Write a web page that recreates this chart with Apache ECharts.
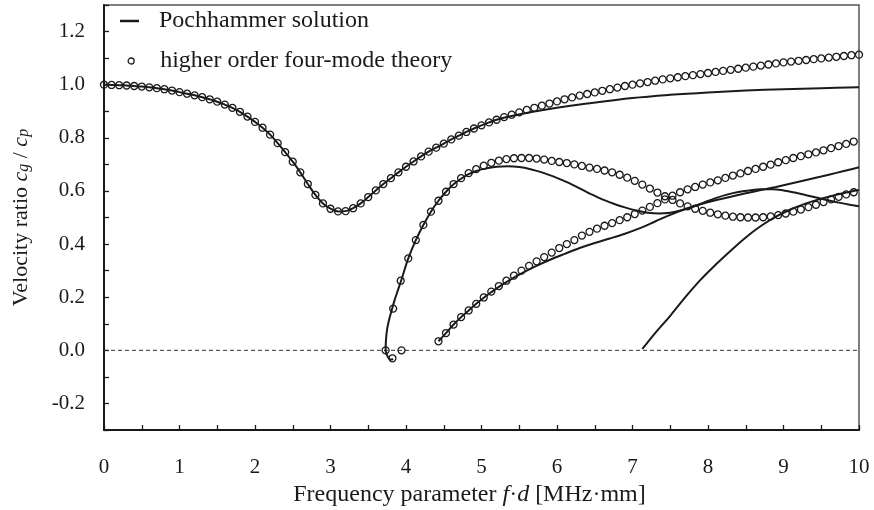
<!DOCTYPE html>
<html>
<head>
<meta charset="utf-8">
<script src="https://cdn.jsdelivr.net/npm/echarts@6/dist/echarts.min.js"></script>
<style>
html,body{margin:0;padding:0;background:#fff;}
#chart{width:874px;height:510px;}
</style>
</head>
<body>
<div id="chart"></div>
<script>
// ---------- data (f·d in MHz·mm, velocity ratio cg/cp) ----------
const xTicks = [0,1,2,3,4,5,6,7,8,9,10];
const yTicks = [-0.2,0.0,0.2,0.4,0.6,0.8,1.0,1.2];

// Pochhammer solution (solid curves)
const pochMode1 = [
 [0.0,1.000],[0.1,0.999],[0.2,0.998],[0.3,0.997],[0.4,0.995],[0.5,0.993],[0.6,0.990],[0.7,0.987],[0.8,0.983],[0.9,0.978],
 [1.0,0.972],[1.1,0.966],[1.2,0.960],[1.3,0.953],[1.4,0.945],[1.5,0.936],[1.6,0.925],[1.7,0.913],[1.8,0.898],[1.9,0.880],
 [2.0,0.860],[2.1,0.838],[2.2,0.812],[2.3,0.780],[2.4,0.746],[2.5,0.710],[2.6,0.670],[2.7,0.626],[2.8,0.585],[2.9,0.553],
 [3.0,0.533],[3.1,0.523],[3.2,0.524],[3.3,0.535],[3.4,0.553],[3.5,0.577],[3.6,0.602],[3.7,0.626],[3.8,0.648],[3.9,0.670],
 [4.0,0.691],[4.1,0.711],[4.2,0.730],[4.3,0.748],[4.4,0.763],[4.5,0.778],[4.6,0.794],[4.7,0.808],[4.8,0.822],[4.9,0.835],
 [5.0,0.847],[5.1,0.858],[5.2,0.868],[5.4,0.882],[5.7,0.899],[6.0,0.913],[6.4,0.929],[7.0,0.950],[7.5,0.962],[8.0,0.971],
 [8.5,0.978],[9.0,0.983],[9.5,0.987],[10.0,0.990]
];
const pochMode2 = [
 [3.83,-0.033],[3.80,-0.035],[3.77,-0.029],[3.75,-0.019],[3.735,-0.008],[3.73,0.0],[3.735,0.04],[3.75,0.08],[3.78,0.12],
 [3.81,0.15],[3.85,0.19],[3.90,0.232],[3.95,0.275],[4.03,0.346],[4.13,0.415],[4.23,0.472],[4.33,0.522],[4.43,0.563],
 [4.53,0.597],[4.63,0.625],[4.73,0.646],[4.83,0.663],[4.93,0.675],[5.05,0.684],[5.2,0.691],[5.35,0.693],[5.5,0.690],
 [5.65,0.682],[5.8,0.670],[5.95,0.655],[6.1,0.637],[6.2,0.624],[6.3,0.610],[6.45,0.588],[6.6,0.568],[6.75,0.552],
 [6.9,0.538],[7.05,0.526],[7.2,0.518],[7.35,0.515],[7.5,0.518],[7.65,0.527],[7.8,0.540],[7.95,0.557],[8.1,0.573],
 [8.25,0.586],[8.4,0.596],[8.55,0.602],[8.7,0.606],[8.85,0.606],[9.0,0.602],[9.15,0.594],[9.3,0.584],[9.45,0.574],
 [9.6,0.564],[9.75,0.555],[9.9,0.547],[10.0,0.542]
];
const pochMode3 = [
 [4.43,0.034],[4.53,0.065],[4.63,0.097],[4.73,0.125],[4.83,0.150],[4.93,0.175],[5.03,0.198],[5.13,0.219],[5.23,0.239],
 [5.33,0.257],[5.5,0.285],[5.7,0.314],[5.9,0.340],[6.1,0.363],[6.3,0.385],[6.5,0.404],[6.7,0.421],[6.9,0.439],[7.1,0.460],
 [7.3,0.485],[7.5,0.510],[7.7,0.532],[7.9,0.550],[8.1,0.565],[8.3,0.578],[8.5,0.591],[8.7,0.603],[8.9,0.615],[9.1,0.628],
 [9.3,0.641],[9.5,0.654],[9.7,0.668],[9.9,0.682],[10.0,0.689]
];
const pochMode4 = [
 [7.13,0.005],[7.3,0.065],[7.5,0.130],[7.7,0.200],[7.9,0.265],[8.1,0.322],[8.3,0.375],[8.5,0.425],[8.7,0.468],[8.9,0.503],
 [9.1,0.531],[9.3,0.553],[9.5,0.571],[9.7,0.586],[9.9,0.598],[10.0,0.604]
];

// higher order four-mode theory (open circles)
const theoryMode1 = [
 [0.0,1.000],[0.1,0.999],[0.2,0.998],[0.3,0.997],[0.4,0.995],[0.5,0.993],[0.6,0.990],[0.7,0.987],[0.8,0.983],[0.9,0.978],
 [1.0,0.972],[1.1,0.966],[1.2,0.960],[1.3,0.953],[1.4,0.945],[1.5,0.936],[1.6,0.925],[1.7,0.913],[1.8,0.898],[1.9,0.880],
 [2.0,0.860],[2.1,0.838],[2.2,0.812],[2.3,0.780],[2.4,0.746],[2.5,0.710],[2.6,0.670],[2.7,0.626],[2.8,0.585],[2.9,0.553],
 [3.0,0.533],[3.1,0.523],[3.2,0.524],[3.3,0.535],[3.4,0.553],[3.5,0.577],[3.6,0.602],[3.7,0.626],[3.8,0.648],[3.9,0.670],
 [4.0,0.691],[4.1,0.711],[4.2,0.730],[4.3,0.748],[4.4,0.763],[4.5,0.778],[4.6,0.794],[4.7,0.808],[4.8,0.822],[4.9,0.835],
 [5.0,0.847],[5.1,0.858],[5.2,0.868],[5.3,0.878],[5.4,0.887],[5.5,0.896],[5.6,0.905],[5.7,0.913],[5.8,0.921],[5.9,0.929],
 [6.0,0.937],[6.1,0.945],[6.2,0.952],[6.3,0.959],[6.4,0.965],[6.5,0.971],[6.6,0.977],[6.7,0.983],[6.8,0.989],[6.9,0.995],
 [7.0,1.000],[7.1,1.005],[7.2,1.010],[7.3,1.015],[7.4,1.020],[7.5,1.024],[7.6,1.028],[7.7,1.032],[7.8,1.036],[7.9,1.040],
 [8.0,1.044],[8.1,1.048],[8.2,1.052],[8.3,1.056],[8.4,1.060],[8.5,1.064],[8.6,1.068],[8.7,1.072],[8.8,1.076],[8.9,1.080],
 [9.0,1.084],[9.1,1.087],[9.2,1.090],[9.3,1.093],[9.4,1.096],[9.5,1.099],[9.6,1.102],[9.7,1.105],[9.8,1.108],[9.9,1.111],
 [10.0,1.113]
];
const theoryMode2 = [
 [3.73,0.000],[3.83,0.157],[3.93,0.262],[4.03,0.346],[4.13,0.415],[4.23,0.472],[4.33,0.522],[4.43,0.563],[4.53,0.597],
 [4.63,0.626],[4.73,0.648],[4.83,0.667],[4.93,0.682],[5.03,0.695],[5.13,0.706],[5.23,0.714],[5.33,0.720],[5.43,0.723],
 [5.53,0.724],[5.63,0.724],[5.73,0.722],[5.83,0.718],[5.93,0.713],[6.03,0.709],[6.13,0.705],[6.23,0.700],[6.33,0.694],
 [6.43,0.688],[6.53,0.683],[6.63,0.677],[6.73,0.670],[6.83,0.661],[6.93,0.650],[7.03,0.638],[7.13,0.624],[7.23,0.609],
 [7.33,0.594],[7.43,0.580],[7.53,0.566],[7.63,0.553],[7.73,0.542],[7.83,0.533],[7.93,0.525],[8.03,0.518],[8.13,0.512],
 [8.23,0.507],[8.33,0.503],[8.43,0.501],[8.53,0.500],[8.63,0.500],[8.73,0.501],[8.83,0.504],[8.93,0.509],[9.03,0.515],
 [9.13,0.522],[9.23,0.530],[9.33,0.539],[9.43,0.548],[9.53,0.558],[9.63,0.568],[9.73,0.578],[9.83,0.587],[9.93,0.595]
];
const theoryMode2Cutoff = [[3.82,-0.030],[3.94,0.000]];
const theoryMode3 = [
 [4.43,0.034],[4.53,0.065],[4.63,0.097],[4.73,0.125],[4.83,0.150],[4.93,0.175],[5.03,0.199],[5.13,0.221],[5.23,0.242],
 [5.33,0.262],[5.43,0.281],[5.53,0.300],[5.63,0.318],[5.73,0.335],[5.83,0.351],[5.93,0.368],[6.03,0.385],[6.13,0.400],
 [6.23,0.415],[6.33,0.432],[6.43,0.446],[6.53,0.458],[6.63,0.469],[6.73,0.479],[6.83,0.490],[6.93,0.501],[7.03,0.513],
 [7.13,0.526],[7.23,0.540],[7.33,0.554],[7.43,0.568],[7.53,0.582],[7.63,0.595],[7.73,0.606],[7.83,0.615],[7.93,0.624],
 [8.03,0.632],[8.13,0.640],[8.23,0.649],[8.33,0.658],[8.43,0.666],[8.53,0.675],[8.63,0.683],[8.73,0.691],[8.83,0.699],
 [8.93,0.708],[9.03,0.716],[9.13,0.724],[9.23,0.731],[9.33,0.738],[9.43,0.745],[9.53,0.753],[9.63,0.761],[9.73,0.769],
 [9.83,0.777],[9.93,0.786]
];
const zeroLine = [[0,0],[10,0]];

// ---------- chart ----------
const FONT = '"Liberation Serif", "DejaVu Serif", serif';
const INK = '#1a1a1a';
const LINE_NAME = 'Pochhammer solution';
const CIRC_NAME = 'higher order four-mode theory';

function solid(data){
  return {type:'line', name:LINE_NAME, data:data, showSymbol:false, symbol:'none', smooth:0.35,
    lineStyle:{color:INK, width:2}, itemStyle:{color:INK}, z:3, silent:true};
}
function circles(data){
  return {type:'scatter', name:CIRC_NAME, data:data, symbol:'circle', symbolSize:7,
    itemStyle:{color:'rgba(255,255,255,0)', borderColor:INK, borderWidth:1.3, opacity:1}, z:4, silent:true};
}

const chart = echarts.init(document.getElementById('chart'), null, {renderer:'canvas'});
chart.setOption({
  animation:false,
  backgroundColor:'#fff',
  grid:{left:104, right:15, top:5, bottom:80, show:true, borderColor:'#555', borderWidth:1.5,
        backgroundColor:'transparent', containLabel:false, outerBoundsMode:'none'},
  legend:[
    {data:[{name:LINE_NAME, icon:'rect'}], left:120, top:9, padding:0, itemWidth:19, itemHeight:2.5,
     itemStyle:{color:INK}, selectedMode:false,
     textStyle:{fontFamily:FONT, fontSize:24, color:INK, padding:[0,0,0,15]}},
    {data:[{name:CIRC_NAME, icon:'circle'}], left:127.5, top:49, padding:0, itemWidth:6, itemHeight:6,
     itemStyle:{color:'rgba(255,255,255,0)', borderColor:INK, borderWidth:1.3}, selectedMode:false,
     textStyle:{fontFamily:FONT, fontSize:24, color:INK, padding:[0,0,0,21]}}
  ],
  xAxis:{
    type:'value', min:0, max:10, interval:0.5,
    name:'Frequency parameter {i|f}·{i|d} [MHz·mm]',
    nameLocation:'middle', nameGap:50,
    nameTextStyle:{fontFamily:FONT, fontSize:24, color:INK, padding:[0,24,0,0],
      rich:{i:{fontFamily:FONT, fontSize:24, fontStyle:'italic', color:INK}}},
    axisLine:{show:true, onZero:false, lineStyle:{color:INK, width:2}},
    axisTick:{show:true, inside:true, length:5, lineStyle:{color:INK, width:1.3}},
    splitLine:{show:false},
    axisLabel:{fontFamily:FONT, fontSize:21, color:INK, margin:27,
      formatter:function(v){const k=Math.round(v*2); if(k%2!==0) return ''; const t=k/2; return xTicks.indexOf(t)>=0?String(t):'';}}
  },
  yAxis:{
    type:'value', min:-0.3, max:1.3, interval:0.1,
    name:'Velocity ratio {i|c}{sub|g} / {i|c}{sub|p}',
    nameLocation:'middle', nameGap:72, nameRotate:90,
    nameTextStyle:{fontFamily:FONT, fontSize:22, color:INK, lineHeight:22,
      rich:{
        i:{fontFamily:FONT, fontSize:22, fontStyle:'italic', color:INK, lineHeight:22},
        sub:{fontFamily:FONT, fontSize:16, fontStyle:'italic', color:INK, lineHeight:10, verticalAlign:'bottom'}
      }},
    axisLine:{show:true, onZero:false, lineStyle:{color:INK, width:2}},
    axisTick:{show:true, inside:true, length:5, lineStyle:{color:INK, width:1.3}},
    splitLine:{show:false},
    axisLabel:{fontFamily:FONT, fontSize:21, color:INK, margin:19,
      formatter:function(v){const k=Math.round(v*10); if(k%2!==0) return ''; const t=k/10; return yTicks.some(function(y){return Math.abs(y-t)<1e-9;})?t.toFixed(1):'';}}
  },
  series:[
    {type:'line', name:'zero', data:zeroLine, symbol:'none', silent:true, z:1,
     lineStyle:{color:'#333', width:1, type:[4,3]}},
    solid(pochMode1), solid(pochMode2), solid(pochMode3), solid(pochMode4),
    circles(theoryMode1), circles(theoryMode2), circles(theoryMode2Cutoff), circles(theoryMode3)
  ]
});
</script>
</body>
</html>
